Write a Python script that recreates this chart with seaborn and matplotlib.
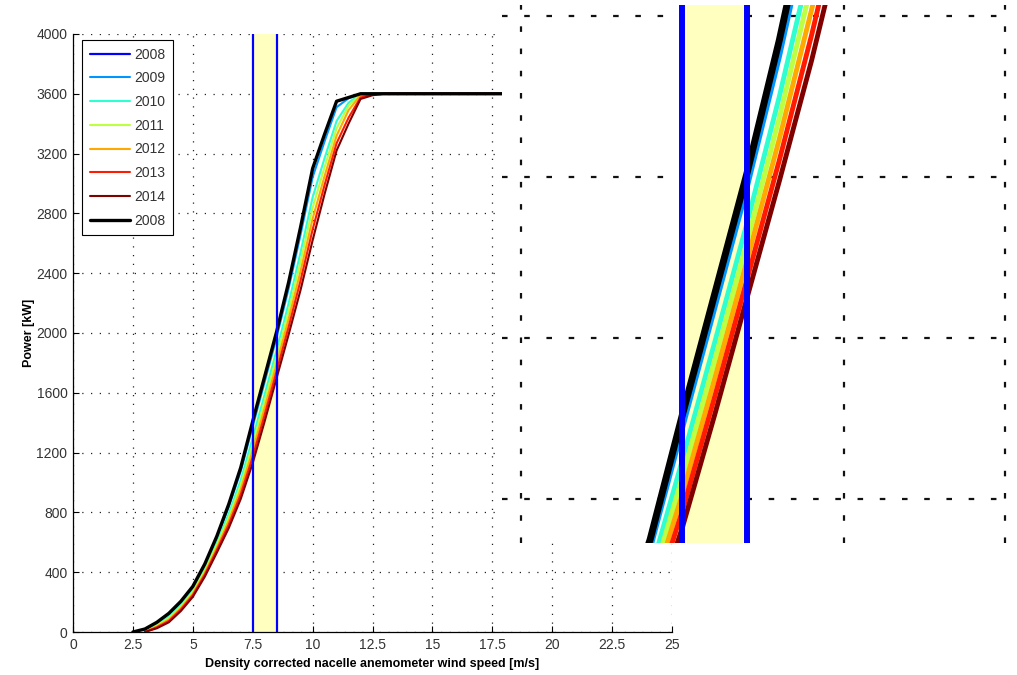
import numpy as np
import pandas as pd
import matplotlib
matplotlib.use("Agg")
import matplotlib.pyplot as plt
import seaborn as sns
from matplotlib.lines import Line2D

# ---------------- data ----------------
wind_speed = [2.5, 3, 3.5, 4, 4.5, 5, 5.5, 6, 6.5, 7, 7.5, 8, 8.5, 9, 9.5, 10,
              10.5, 11, 11.5, 12, 12.5, 13, 14, 15, 16, 17, 18, 19, 20, 21, 22,
              23, 24, 25]
nan = np.nan
power_2008 = [0, 20, 65, 125, 205, 305, 455, 640, 855, 1100, 1410, 1710, 2010, 2340,
              2710, 3100, 3330, 3550, 3575, 3600, 3600, 3600, 3600, 3600, 3600, 3600,
              3600, 3600, 3600, 3600, 3600, 3600, 3600, 3600]
power_2009 = [nan, 10, 60, 118, 197, 297, 445, 627, 836, 1075, 1376, 1674, 1973, 2298,
              2660, 3042, 3282, 3510, 3570, 3600, 3600, 3600, 3600, 3600, 3600, 3600,
              3600, 3600, 3600, 3600, 3600, 3600, 3600, 3600]
power_2010 = [nan, 0, 49, 101, 179, 277, 421, 596, 791, 1016, 1298, 1590, 1886, 2200,
              2542, 2908, 3170, 3418, 3540, 3600, 3600, 3600, 3600, 3600, 3600, 3600,
              3600, 3600, 3600, 3600, 3600, 3600, 3600, 3600]
power_2011 = [nan, 0, 43, 92, 169, 267, 408, 580, 767, 984, 1256, 1545, 1839, 2147,
              2479, 2836, 3110, 3368, 3520, 3595, 3600, 3600, 3600, 3600, 3600, 3600,
              3600, 3600, 3600, 3600, 3600, 3600, 3600, 3600]
power_2012 = [nan, 0, 37, 83, 160, 256, 396, 563, 743, 953, 1214, 1500, 1793, 2095,
              2416, 2764, 3050, 3319, 3490, 3590, 3600, 3600, 3600, 3600, 3600, 3600,
              3600, 3600, 3600, 3600, 3600, 3600, 3600, 3600]
power_2013 = [nan, 0, 31, 74, 150, 246, 383, 547, 719, 921, 1172, 1455, 1746, 2042,
              2353, 2692, 2990, 3269, 3440, 3575, 3595, 3600, 3600, 3600, 3600, 3600,
              3600, 3600, 3600, 3600, 3600, 3600, 3600, 3600]
power_2014 = [nan, 0, 25, 65, 140, 235, 370, 530, 695, 890, 1130, 1410, 1700, 1990,
              2290, 2620, 2930, 3220, 3400, 3565, 3590, 3600, 3600, 3600, 3600, 3600,
              3600, 3600, 3600, 3600, 3600, 3600, 3600, 3600]

years = ["2009", "2010", "2011", "2012", "2013", "2014"]
year_colors = ["#0096ff", "#2effd0", "#bdff42", "#ffa800", "#ff1a00", "#800000"]
band_edges = [7.5, 8.5]
legend_labels = ["2008", "2009", "2010", "2011", "2012", "2013", "2014", "2008"]
x_ticks = [0, 2.5, 5, 7.5, 10, 12.5, 15, 17.5, 20, 22.5, 25]
x_tick_labels = ["0", "2.5", "5", "7.5", "10", "12.5", "15", "17.5", "20", "22.5", "25"]
y_ticks = [0, 400, 800, 1200, 1600, 2000, 2400, 2800, 3200, 3600, 4000]

# ---------------- style ----------------
sns.set_theme(style="white")
plt.rcParams["font.family"] = ["Liberation Sans", "DejaVu Sans"]

series = [power_2009, power_2010, power_2011, power_2012, power_2013, power_2014]
df = pd.DataFrame({"ws": wind_speed, "2008b": power_2008})
for yr, vals in zip(years, series):
    df[yr] = vals

fig = plt.figure(figsize=(10.17, 6.75), dpi=100)
ax = fig.add_axes([0.0718, 0.0637, 0.589, 0.886])
ax.set_facecolor("white")


def draw(axis, lw_col, lw_black, lw_blue):
    axis.axvspan(band_edges[0], band_edges[1], color="#ffffc0", zorder=1, lw=0)
    for yr, c in zip(years, year_colors):
        sub = df[["ws", yr]].dropna()
        sns.lineplot(data=sub, x="ws", y=yr, ax=axis, color=c, lw=lw_col,
                     zorder=3, legend=False, sort=False)
    sns.lineplot(data=df, x="ws", y="2008b", ax=axis, color="black", lw=lw_black,
                 zorder=4, legend=False, sort=False)
    for e in band_edges:
        axis.axvline(e, color="#0000ff", lw=lw_blue, zorder=5)


draw(ax, 1.5, 2.4, 1.6)

ax.set_xlim(0, 25)
ax.set_ylim(0, 4000)
ax.set_xticks(x_ticks)
ax.set_xticklabels(x_tick_labels)
ax.set_yticks(y_ticks)
ax.set_axisbelow(True)
ax.grid(True, linestyle=(0, (1, 6)), color="#222222", lw=0.9)
for s in ["top", "right"]:
    ax.spines[s].set_visible(False)
for s in ["left", "bottom"]:
    ax.spines[s].set_color("black")
    ax.spines[s].set_linewidth(0.9)
ax.tick_params(axis="both", direction="in", length=4, width=0.8, colors="black",
               labelsize=10, labelcolor="#333333", pad=4, bottom=True, left=True)
ax.set_xlabel("Density corrected nacelle anemometer wind speed [m/s]",
              fontsize=9, fontweight="bold", color="black")
ax.set_ylabel("Power [kW]", fontsize=9, fontweight="bold", color="black")
ax.xaxis.set_label_coords(0.5, -0.044)
ax.yaxis.set_label_coords(-0.064, 0.5)

handles = [Line2D([0], [0], color="#0000ff", lw=1.6)]
handles += [Line2D([0], [0], color=c, lw=1.5) for c in year_colors]
handles += [Line2D([0], [0], color="black", lw=2.4)]
leg = ax.legend(handles, legend_labels, loc="upper left", bbox_to_anchor=(0.015, 0.99),
                borderaxespad=0, fontsize=10, handlelength=2.9, labelspacing=0.7,
                handletextpad=0.3, borderpad=0.55, fancybox=False, framealpha=1,
                edgecolor="black")
leg.get_frame().set_linewidth(0.8)
for t in leg.get_texts():
    t.set_color("#333333")

# ---------------- magnified inset ----------------
axins = fig.add_axes([0.4936, 0.1956, 0.4995, 0.797])
axins.set_zorder(10)
axins.set_facecolor("white")
draw(axins, 3.5, 5.0, 4.3)
axins.set_xlim(4.706, 12.57)
axins.set_ylim(1091, 2427)
axins.set_xticks([5, 7.5, 10, 12.5])
axins.set_yticks([1200, 1600, 2000, 2400])
axins.set_axisbelow(True)
axins.grid(True, linestyle=(0, (2.5, 7.5)), color="#111111", lw=1.6)
for s in axins.spines.values():
    s.set_visible(False)
axins.tick_params(length=0, labelbottom=False, labelleft=False)
axins.set_xlabel("")
axins.set_ylabel("")

fig.savefig("out.png", dpi=100)
